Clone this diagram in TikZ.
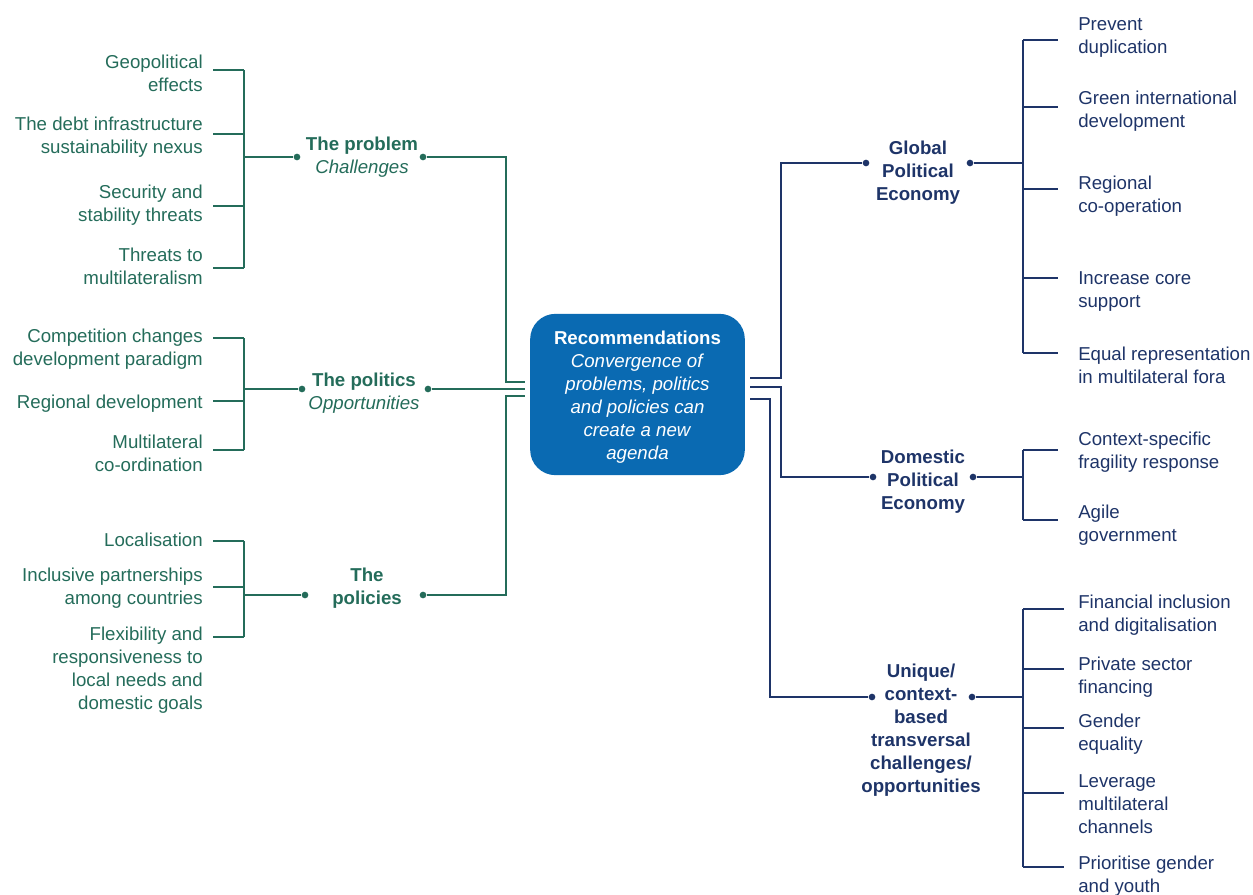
\documentclass[tikz,border=0pt]{standalone}
\usepackage{fontspec}
\setmainfont{Liberation Sans}
\definecolor{grn}{RGB}{36,108,90}
\definecolor{navy}{RGB}{30,52,104}
\definecolor{boxblue}{RGB}{10,106,178}
\newcommand{\txt}{\fontsize{14}{17.25}\selectfont}
\begin{document}
\begin{tikzpicture}[x=0.75pt, y=-0.75pt,
    every node/.style={font=\txt, inner sep=0pt},
    leftitem/.style={anchor=east, align=right, text=grn, yshift=-2pt},
    rightitem/.style={anchor=west, align=left, text=navy, yshift=-2pt},
    hubgrn/.style={align=center, text=grn, yshift=-2pt},
    hubnavy/.style={align=center, text=navy, font=\txt\bfseries, yshift=-2pt},
    recbox/.style={fill=boxblue, rounded corners=19pt, minimum width=161pt,
        minimum height=121pt, align=center, text=white},
    dot/.style={circle, fill, minimum size=5pt, inner sep=0pt},
    gline/.style={draw=grn, line width=1.1pt},
    nline/.style={draw=navy, line width=1.3pt}]

    \useasboundingbox (0,0) rectangle (1253,895);

    % centre box
    \node [recbox] (rec) at (637.5,394.5) {\rule{0pt}{13.5pt}\textbf{Recommendations}\\
        \textit{Convergence of}\\ \textit{problems, politics}\\
        \textit{and policies can}\\ \textit{create a new}\\ \textit{agenda}};
    \coordinate (inA) at (525,382);
    \coordinate (inB) at (525,389);
    \coordinate (inC) at (525,396);
    \coordinate (outA) at (750,378);
    \coordinate (outB) at (750,387);
    \coordinate (outC) at (750,399);

    % the problem
    \node [hubgrn] (prob) at (362,155) {\textbf{The problem}\\ \textit{Challenges}};
    \node [dot, grn] (probL) at (297,157) {};
    \node [dot, grn] (probR) at (423,157) {};
    \node [leftitem] (geo) at (203,71) {Geopolitical\\effects};
    \node [leftitem] (debt) at (203,135) {The debt infrastructure\\sustainability nexus};
    \node [leftitem] (secu) at (203,203) {Security and\\stability threats};
    \node [leftitem] (multi) at (203,264) {Threats to\\multilateralism};
    \draw [gline] (244,70) -- (244,268);
    \foreach \y in {70,134,206,268} \draw [gline] (213,\y) -- (244,\y);
    \draw [gline] (244,157) -- (probL);
    \draw [gline] (probR) -| (506,382) -- (inA);

    % the politics
    \node [hubgrn] (poli) at (364,391) {\textbf{The politics}\\ \textit{Opportunities}};
    \node [dot, grn] (poliL) at (302,389) {};
    \node [dot, grn] (poliR) at (428,389) {};
    \node [leftitem] (comp) at (203,347) {Competition changes\\development paradigm};
    \node [leftitem] (regdev) at (203,401) {Regional development};
    \node [leftitem] (coord) at (203,451) {Multilateral\\co-ordination};
    \draw [gline] (244,338) -- (244,450);
    \foreach \y in {338,401,450} \draw [gline] (213,\y) -- (244,\y);
    \draw [gline] (244,389) -- (poliL);
    \draw [gline] (poliR) -- (inB);

    % the policies
    \node [hubgrn] (pols) at (367,586) {\textbf{The}\\ \textbf{policies}};
    \node [dot, grn] (polsL) at (305,595) {};
    \node [dot, grn] (polsR) at (423,595) {};
    \node [leftitem] (local) at (203,537) {Localisation};
    \node [leftitem] (incl) at (203,586) {Inclusive partnerships\\among countries};
    \node [leftitem] (flex) at (203,668) {Flexibility and\\responsiveness to\\local needs and\\domestic goals};
    \draw [gline] (244,541) -- (244,637);
    \foreach \y in {541,587,637} \draw [gline] (213,\y) -- (244,\y);
    \draw [gline] (244,595) -- (polsL);
    \draw [gline] (polsR) -| (506,396) -- (inC);

    % global political economy
    \node [hubnavy] (glob) at (918,170) {Global\\Political\\Economy};
    \node [dot, navy] (globL) at (866,163) {};
    \node [dot, navy] (globR) at (970,163) {};
    \node [rightitem] (prev) at (1078,34.5) {Prevent\\duplication};
    \node [rightitem] (green) at (1078,108.5) {Green international\\development};
    \node [rightitem] (coop) at (1078,193.5) {Regional\\co-operation};
    \node [rightitem] (core) at (1078,288.5) {Increase core\\support};
    \node [rightitem] (equal) at (1078,362.5) {Equal representation\\in multilateral fora};
    \draw [nline] (1023,40) -- (1023,353);
    \foreach \y in {40,107,189,278,353} \draw [nline] (1023,\y) -- (1058,\y);
    \draw [nline] (globR) -- (1023,163);
    \draw [nline] (outA) -- ++(31,0) |- (globL);

    % domestic political economy
    \node [hubnavy] (dome) at (923,479) {Domestic\\Political\\Economy};
    \node [dot, navy] (domeL) at (873,477) {};
    \node [dot, navy] (domeR) at (973,477) {};
    \node [rightitem] (frag) at (1078,449.5) {Context-specific\\fragility response};
    \node [rightitem] (agile) at (1078,522.5) {Agile\\government};
    \draw [nline] (1023,450) -- (1023,520);
    \foreach \y in {450,520} \draw [nline] (1023,\y) -- (1058,\y);
    \draw [nline] (domeR) -- (1023,477);
    \draw [nline] (outB) -- ++(31,0) |- (domeL);

    % unique / context-based
    \node [hubnavy] (uniq) at (921,727.5) {Unique/\\context-\\based\\transversal\\challenges/\\opportunities};
    \node [dot, navy] (uniqL) at (872,697) {};
    \node [dot, navy] (uniqR) at (972,697) {};
    \node [rightitem] (fin) at (1078,612.5) {Financial inclusion\\and digitalisation};
    \node [rightitem] (priv) at (1078,674.5) {Private sector\\financing};
    \node [rightitem] (gend) at (1078,731.5) {Gender\\equality};
    \node [rightitem] (lev) at (1078,801.5) {Leverage\\multilateral\\channels};
    \node [rightitem] (youth) at (1078,873.5) {Prioritise gender\\and youth};
    \draw [nline] (1023,609) -- (1023,867);
    \foreach \y in {609,669,728,793,867} \draw [nline] (1023,\y) -- (1064,\y);
    \draw [nline] (uniqR) -- (1023,697);
    \draw [nline] (outC) -- ++(20,0) |- (uniqL);

\end{tikzpicture}
\end{document}
